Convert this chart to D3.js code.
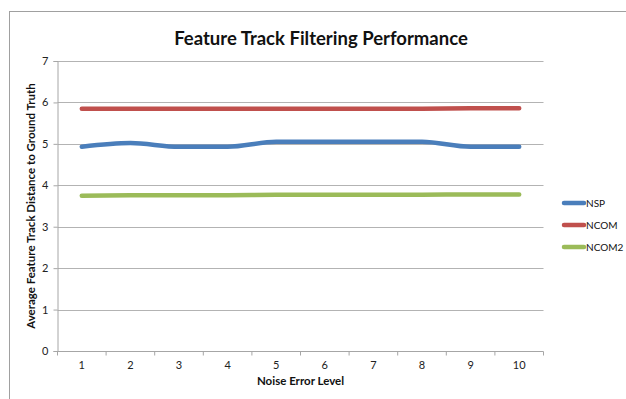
<!DOCTYPE html>
<html>
<head>
<meta charset="utf-8">
<script src="https://cdn.jsdelivr.net/npm/d3@7"></script>
<style>
  html, body { margin: 0; padding: 0; background: #fff; }
  svg { display: block; font-family: Lato, "Open Sans", "Liberation Sans", sans-serif; }
</style>
</head>
<body>
<svg id="chart" width="626" height="399"></svg>
<script>
// Noise levels on the x axis
const noiseLevels = [1, 2, 3, 4, 5, 6, 7, 8, 9, 10];

// Average feature track distance to ground truth, per filter
const nsp   = [4.93, 5.02, 4.93, 4.93, 5.05, 5.05, 5.05, 5.05, 4.93, 4.93];
const ncom  = [5.85, 5.85, 5.85, 5.85, 5.85, 5.85, 5.85, 5.85, 5.86, 5.86];
const ncom2 = [3.75, 3.76, 3.76, 3.76, 3.77, 3.77, 3.77, 3.77, 3.78, 3.78];

const seriesNames  = ["NSP", "NCOM", "NCOM2"];
const seriesColors = ["#4a7ebb", "#c0504d", "#9bbb59"];
const yTicks = [0, 1, 2, 3, 4, 5, 6, 7];

const series = [nsp, ncom, ncom2].map((values, i) => ({
  name: seriesNames[i],
  color: seriesColors[i],
  values
}));

const svg = d3.select("#chart");
const plot = { left: 57.5, right: 543.5, top: 61, bottom: 351 };

// outer chart frame (runs off the right and bottom edges)
svg.append("rect")
  .attr("x", 9.5).attr("y", 11.5)
  .attr("width", 640).attr("height", 400)
  .attr("fill", "#fff")
  .attr("stroke", "#a0a0a0")
  .attr("stroke-width", 1);

const x = d3.scaleBand()
  .domain(noiseLevels)
  .range([plot.left, plot.right]);

const y = d3.scaleLinear()
  .domain([0, 7])
  .range([plot.bottom, plot.top]);

// horizontal gridlines
svg.append("g")
  .selectAll("line")
  .data(yTicks.filter(t => t > 0))
  .join("line")
  .attr("x1", plot.left).attr("x2", plot.right)
  .attr("y1", d => Math.round(y(d)) + 0.5)
  .attr("y2", d => Math.round(y(d)) + 0.5)
  .attr("stroke", "#b3b3b3")
  .attr("stroke-width", 1);

// y axis
const yAxis = svg.append("g")
  .attr("transform", `translate(${plot.left},0)`)
  .call(d3.axisLeft(y).tickValues(yTicks).tickSize(4).tickPadding(5).tickFormat(d3.format("d")));
yAxis.select(".domain").attr("stroke", "#a6a6a6");
yAxis.selectAll(".tick line").attr("stroke", "#a6a6a6");
yAxis.selectAll(".tick text")
  .attr("font-size", 11).attr("fill", "#222")
  .attr("font-family", "Lato, 'Open Sans', sans-serif");

// x axis with ticks between categories
const xAxisG = svg.append("g")
  .attr("transform", `translate(0,${plot.bottom + 0.5})`);
xAxisG.append("line")
  .attr("x1", plot.left).attr("x2", plot.right)
  .attr("stroke", "#a6a6a6");
const boundaries = noiseLevels.map(d => x(d)).concat([x(noiseLevels[noiseLevels.length - 1]) + x.bandwidth()]);
xAxisG.selectAll("line.tick")
  .data(boundaries)
  .join("line")
  .attr("class", "tick")
  .attr("x1", d => d).attr("x2", d => d)
  .attr("y1", 0).attr("y2", 4)
  .attr("stroke", "#a6a6a6");
xAxisG.selectAll("text")
  .data(noiseLevels)
  .join("text")
  .attr("x", d => x(d) + x.bandwidth() / 2)
  .attr("y", 17)
  .attr("text-anchor", "middle")
  .attr("font-size", 11)
  .attr("fill", "#222")
  .text(d => d);

// series lines (smoothed)
const line = d3.line()
  .x((d, i) => x(noiseLevels[i]) + x.bandwidth() / 2)
  .y(d => y(d))
  .curve(d3.curveMonotoneX);

svg.append("g")
  .selectAll("path")
  .data(series)
  .join("path")
  .attr("d", s => line(s.values))
  .attr("fill", "none")
  .attr("stroke", s => s.color)
  .attr("stroke-width", 4.5)
  .attr("stroke-linecap", "round")
  .attr("stroke-linejoin", "round");

// title
svg.append("text")
  .attr("x", 321).attr("y", 45)
  .attr("text-anchor", "middle")
  .attr("font-size", 18.5)
  .attr("font-weight", "bold")
  .attr("fill", "#111")
  .text("Feature Track Filtering Performance");

// axis titles
svg.append("text")
  .attr("x", (plot.left + plot.right) / 2).attr("y", 385)
  .attr("text-anchor", "middle")
  .attr("font-size", 11.5)
  .attr("font-weight", "bold")
  .attr("fill", "#111")
  .text("Noise Error Level");

svg.append("text")
  .attr("transform", `translate(35,${(plot.top + plot.bottom) / 2}) rotate(-90)`)
  .attr("text-anchor", "middle")
  .attr("font-size", 11.5)
  .attr("font-weight", "bold")
  .attr("fill", "#111")
  .text("Average Feature Track Distance to Ground Truth");

// legend
const legend = svg.append("g").attr("transform", "translate(562,203)");
const item = legend.selectAll("g")
  .data(series)
  .join("g")
  .attr("transform", (d, i) => `translate(0,${i * 22})`);
item.append("line")
  .attr("x1", 2).attr("x2", 22)
  .attr("stroke", d => d.color)
  .attr("stroke-width", 4.5)
  .attr("stroke-linecap", "round");
item.append("text")
  .attr("x", 24).attr("y", 4)
  .attr("font-size", 10)
  .attr("fill", "#111")
  .text(d => d.name);
</script>
</body>
</html>
